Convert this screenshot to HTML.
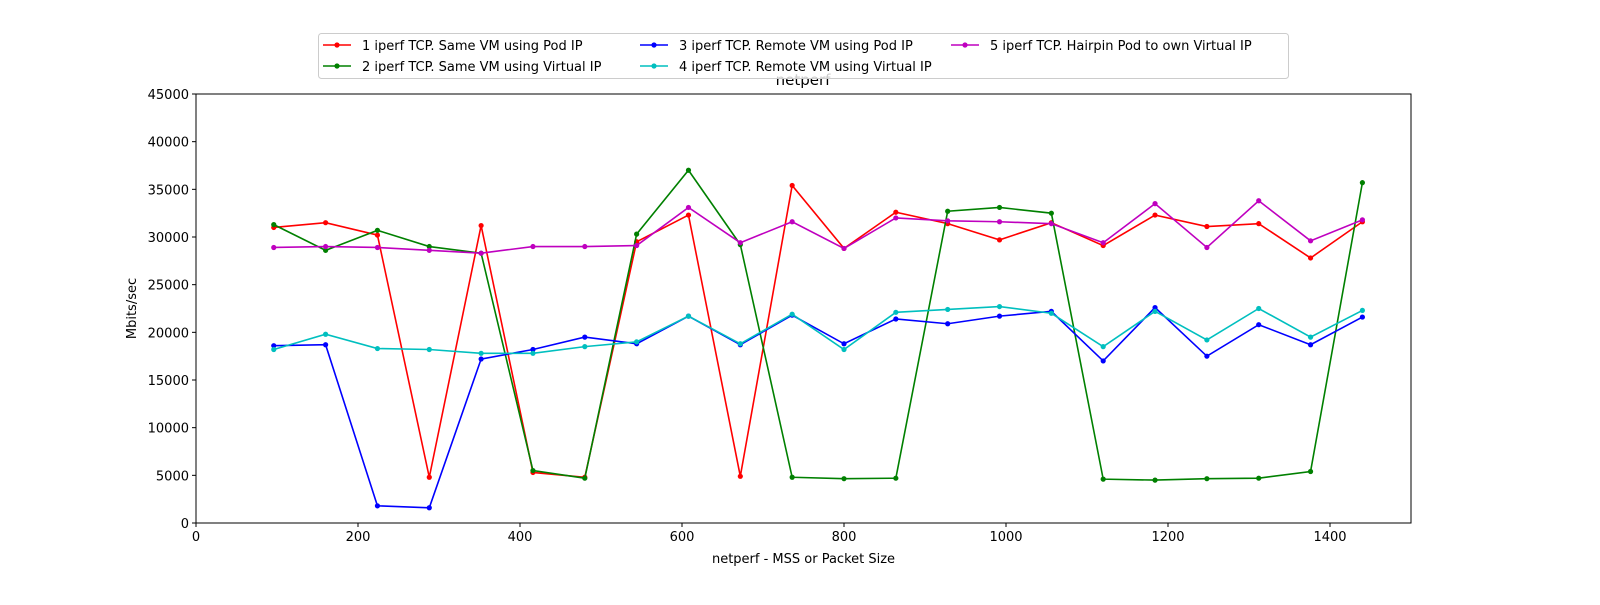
<!DOCTYPE html>
<html><head><meta charset="utf-8"><style>
body{margin:0;background:#fff;}
svg text{font-family:"DejaVu Sans","Liberation Sans",sans-serif;font-size:13px;fill:#000;}
</style></head><body>
<svg id="chart" width="1600" height="600" xmlns="http://www.w3.org/2000/svg">
<rect width="1600" height="600" fill="#fff"/>
<text x="803" y="85" text-anchor="middle" font-size="15" style="font-size:15px">netperf</text>
<g id="axes"></g>
<g id="series"></g>
<g id="legend"></g>
</svg>
<script>
const xValues=[96,160,224,288,352,416,480,544,608,672,736,800,864,928,992,1056,1120,1184,1248,1312,1376,1440];
const s1=[31000,31500,30200,4800,31200,5300,4800,29500,32300,4900,35400,28800,32600,31400,29700,31500,29100,32300,31100,31400,27800,31600];
const s2=[31300,28600,30700,29000,28300,5500,4700,30300,37000,29200,4800,4650,4700,32700,33100,32500,4600,4500,4650,4700,5400,35700];
const s3=[18600,18700,1800,1600,17200,18200,19500,18800,21700,18700,21800,18800,21400,20900,21700,22200,17000,22600,17500,20800,18700,21600];
const s4=[18200,19800,18300,18200,17800,17800,18500,19000,21700,18800,21900,18200,22100,22400,22700,22000,18500,22200,19200,22500,19500,22300];
const s5=[28900,29000,28900,28600,28300,29000,29000,29100,33100,29400,31600,28800,32000,31700,31600,31400,29400,33500,28900,33800,29600,31800];
const seriesNames=["1 iperf TCP. Same VM using Pod IP","2 iperf TCP. Same VM using Virtual IP","3 iperf TCP. Remote VM using Pod IP","4 iperf TCP. Remote VM using Virtual IP","5 iperf TCP. Hairpin Pod to own Virtual IP"];
const xTicks=[0,200,400,600,800,1000,1200,1400];
const yTicks=[0,5000,10000,15000,20000,25000,30000,35000,40000,45000];
const NS="http://www.w3.org/2000/svg";
const L=196,R=1411,T=94,B=523,XMAX=1500,YMAX=45000;
const xs=v=>L+v/XMAX*(R-L), ys=v=>B-v/YMAX*(B-T);
function mk(tag,attrs,parent){const e=document.createElementNS(NS,tag);for(const k in attrs)e.setAttribute(k,attrs[k]);parent.appendChild(e);return e;}
const axes=document.getElementById('axes');
const frame=mk('rect',{x:L,y:T,width:R-L,height:B-T,fill:'none',stroke:'#000','stroke-width':1},axes);


xTicks.forEach(t=>{const x=xs(t);
 const tk=mk('line',{x1:x,x2:x,y1:B,y2:B+4,stroke:'#000'},axes);
 
 
 const tx=mk('text',{x:x,y:B+18,'text-anchor':'middle'},axes);tx.textContent=t;
 
 });
yTicks.forEach(t=>{const y=ys(t);
 const tk=mk('line',{x1:L-4,x2:L,y1:y,y2:y,stroke:'#000'},axes);
 
 
 const tx=mk('text',{x:L-7,y:y+5,'text-anchor':'end'},axes);tx.textContent=t;
 
 });
const xt=mk('text',{x:(L+R)/2,y:563,'text-anchor':'middle'},axes);xt.textContent='netperf - MSS or Packet Size';


const yt=mk('text',{x:0,y:0,'text-anchor':'middle',transform:`translate(136,${(T+B)/2}) rotate(-90)`},axes);yt.textContent='Mbits/sec';


const colors=['#ff0000','#008000','#0000ff','#00bfbf','#bf00bf'];
const all=[s1,s2,s3,s4,s5];
const sg=document.getElementById('series');
all.forEach((d,i)=>{
 const g=mk('g',{},sg);
 
 
 const pl=mk('polyline',{points:d.map((v,j)=>xs(xValues[j])+','+ys(v)).join(' '),fill:'none',stroke:colors[i],'stroke-width':1.6},g);
 
 
 d.forEach((v,j)=>{const c=mk('circle',{cx:xs(xValues[j]),cy:ys(v),r:2.6,fill:colors[i]},g);
  
  });
});
const lg=document.getElementById('legend');
const box=mk('rect',{x:318.5,y:33.5,width:970,height:45,rx:3,fill:'rgba(255,255,255,0.8)',stroke:'#ccc'},lg);


const pos=[[323,45],[323,66],[640,45],[640,66],[951,45]];
seriesNames.forEach((n,i)=>{const [x,y]=pos[i];
 const g=mk('g',{},lg);
 
 
 mk('line',{x1:x,x2:x+28,y1:y,y2:y,stroke:colors[i],'stroke-width':1.6},g);
 mk('circle',{cx:x+14,cy:y,r:2.6,fill:colors[i]},g);
 const t=mk('text',{x:x+39,y:y+5},g);t.textContent=n;});
</script>
</body></html>
